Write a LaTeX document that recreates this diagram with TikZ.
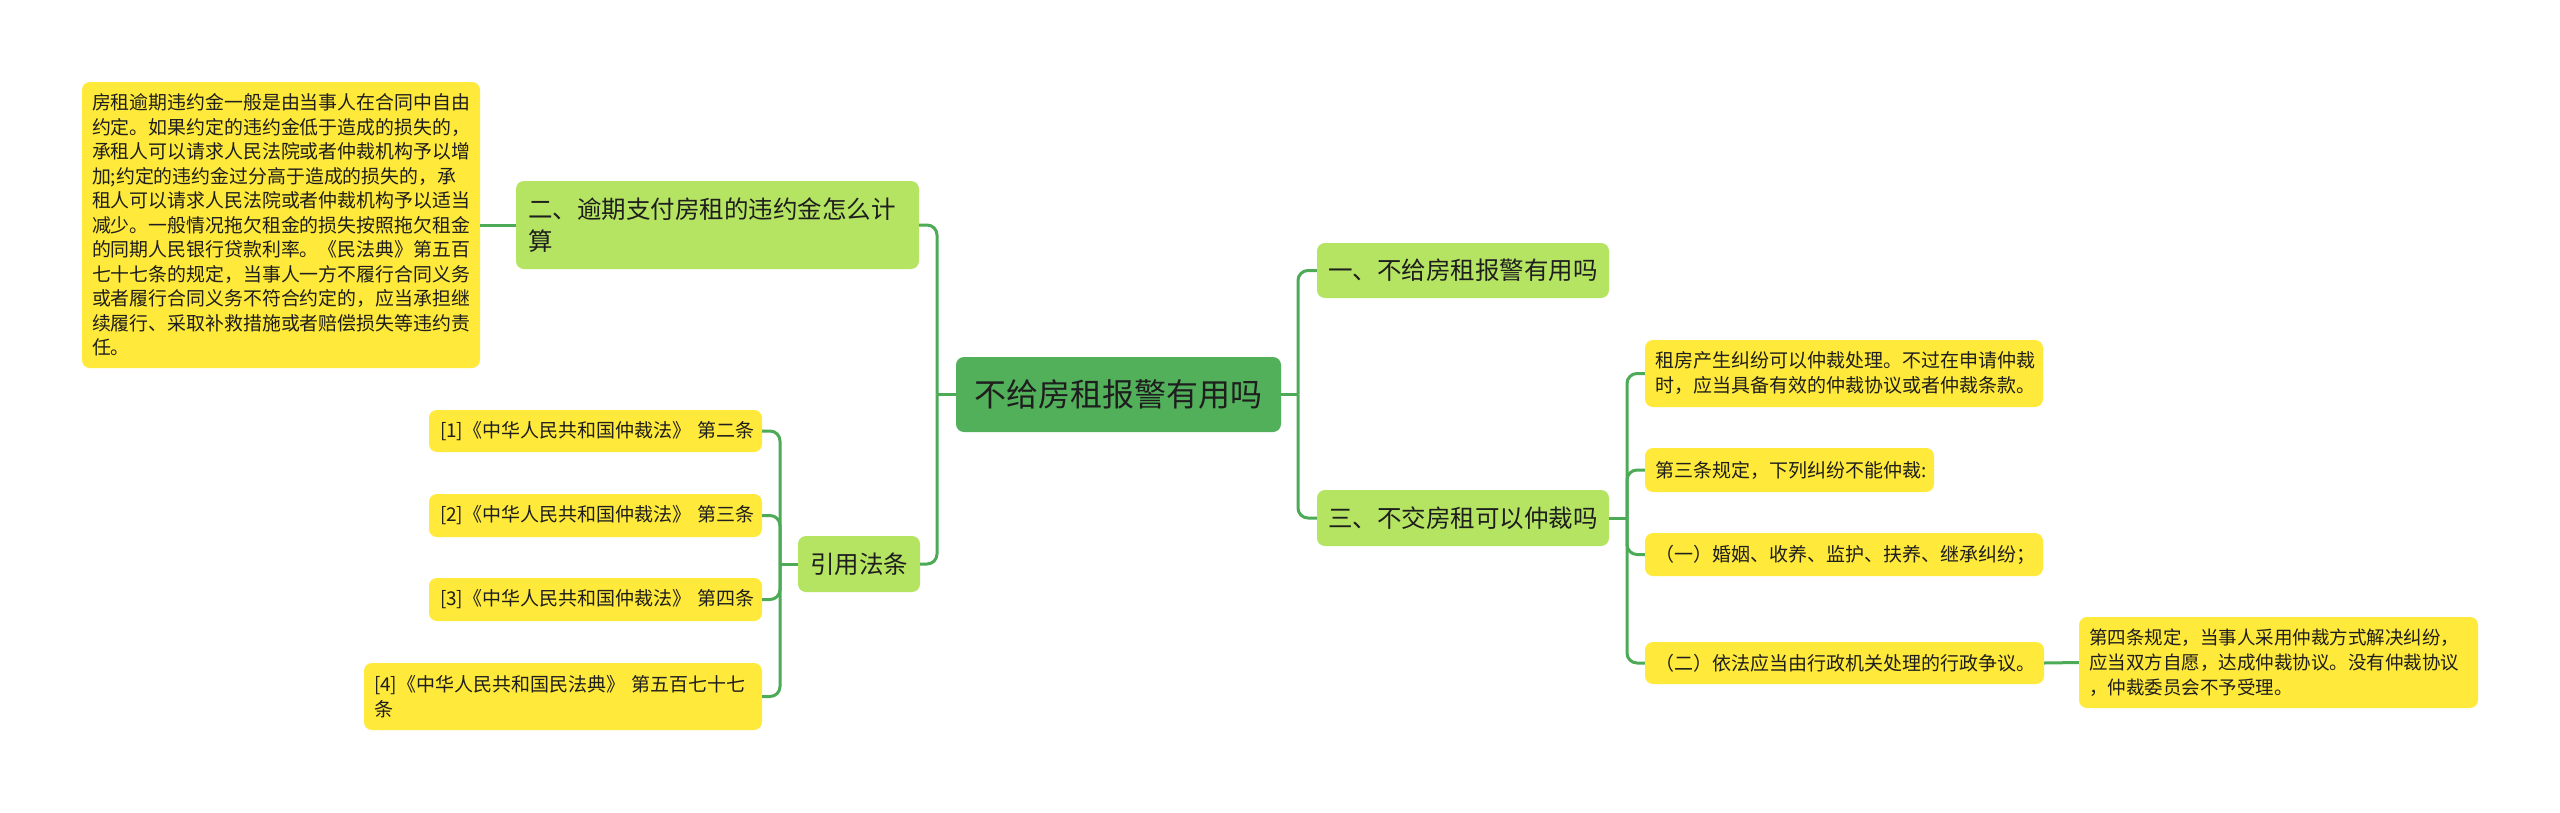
\documentclass[tikz,border=0pt]{standalone}
\usepackage{fontspec}
\setmainfont{Noto Sans CJK SC}
\definecolor{linegreen}{HTML}{4DAA57}
\definecolor{maingreen}{HTML}{52B05A}
\definecolor{lightgreen}{HTML}{B5E462}
\definecolor{leafyellow}{HTML}{FFE93A}
\definecolor{txt}{HTML}{1E1E1E}
\tikzset{
  conn/.style={draw=linegreen, line width=3pt, rounded corners=10pt},
  bx/.style={rounded corners=8pt, inner ysep=0pt, align=left, text=txt, anchor=center},
  mainbox/.style={bx, fill=maingreen, align=center, font=\fontsize{32}{40}\selectfont},
  lvone/.style={bx, fill=lightgreen, font=\fontsize{24.5}{32}\selectfont},
  leaf/.style={bx, fill=leafyellow, font=\fontsize{19}{25}\selectfont},
}
\begin{document}
\begin{tikzpicture}[x=1pt,y=-1pt]
\useasboundingbox (0,0) rectangle (2560,812);
\fill[white] (0,0) rectangle (2560,812);

% main
\node[mainbox, minimum width=325, minimum height=75, inner xsep=0pt] (main) at (1118.5,394.5) {不给房租报警有用吗};

% left branch
\node[lvone, inner xsep=12pt, text width=379, minimum height=88] (n2) at (717.5,225) {二、逾期支付房租的违约金怎么计\\算};
\node[lvone, inner xsep=0pt, align=center, minimum width=122, minimum height=56] (cite) at (859,564) {引用法条};

\node[leaf, font=\fontsize{18.9}{24.5}\selectfont, inner xsep=10pt, text width=378, minimum height=286] (detail) at (281,225) {房租逾期违约金一般是由当事人在合同中自由\\约定。如果约定的违约金低于造成的损失的，\\承租人可以请求人民法院或者仲裁机构予以增\\加;约定的违约金过分高于造成的损失的，承\\租人可以请求人民法院或者仲裁机构予以适当\\减少。一般情况拖欠租金的损失按照拖欠租金\\的同期人民银行贷款利率。《民法典》第五百\\七十七条的规定，当事人一方不履行合同义务\\或者履行合同义务不符合约定的，应当承担继\\续履行、采取补救措施或者赔偿损失等违约责\\任。};

\node[leaf, inner xsep=11pt, text width=311, minimum height=42] (l1) at (595.5,431) {\mbox{[1]《中华人民共和国仲裁法》 第二条}};
\node[leaf, inner xsep=11pt, text width=311, minimum height=43] (l2) at (595.5,515.5) {\mbox{[2]《中华人民共和国仲裁法》 第三条}};
\node[leaf, inner xsep=11pt, text width=311, minimum height=43] (l3) at (595.5,599.5) {\mbox{[3]《中华人民共和国仲裁法》 第四条}};
\node[leaf, inner xsep=10pt, text width=378, minimum height=67] (l4) at (563,696.5) {\mbox{[4]《中华人民共和国民法典》 第五百七十七}\\条};

% right branch
\node[lvone, inner xsep=11pt, text width=270, minimum height=55] (n1) at (1463,270.5) {一、不给房租报警有用吗};
\node[lvone, inner xsep=11pt, text width=270, minimum height=56] (n3) at (1463,518) {三、不交房租可以仲裁吗};

\node[leaf, inner xsep=10pt, text width=378, minimum height=67] (r1) at (1844,373.5) {租房产生纠纷可以仲裁处理。不过在申请仲裁\\时，应当具备有效的仲裁协议或者仲裁条款。};
\node[leaf, inner xsep=10pt, text width=269, minimum height=44] (r2) at (1789.5,470) {第三条规定，下列纠纷不能仲裁:};
\node[leaf, inner xsep=10pt, text width=378, minimum height=43] (r3) at (1844,554.5) {（一）婚姻、收养、监护、扶养、继承纠纷；};
\node[leaf, inner xsep=10pt, text width=379, minimum height=42] (r4) at (1844.5,663) {（二）依法应当由行政机关处理的行政争议。};
\node[leaf, font=\fontsize{18.5}{25}\selectfont, inner xsep=10pt, text width=379, minimum height=91] (r5) at (2278.5,662.5) {第四条规定，当事人采用仲裁方式解决纠纷，\\应当双方自愿，达成仲裁协议。没有仲裁协议\\，仲裁委员会不予受理。};

% junctions
\coordinate (jL) at (937,394.5);
\coordinate (jR) at (1298,394.5);
\coordinate (jC) at (780,564);
\coordinate (jR2) at (1627,518);

% connectors
\draw[conn] (main.west) -- (jL);
\draw[conn] (jL) |- (n2.east);
\draw[conn] (jL) |- (cite.east);
\draw[conn] (main.east) -- (jR);
\draw[conn] (jR) |- (n1.west);
\draw[conn] (jR) |- (n3.west);
\draw[conn] (detail.east) -- (n2.west);
\draw[conn] (cite.west) -- (jC);
\draw[conn] (jC) |- (l1.east);
\draw[conn] (jC) |- (l2.east);
\draw[conn] (jC) |- (l3.east);
\draw[conn] (jC) |- (l4.east);
\draw[conn] (n3.east) -- (jR2);
\draw[conn] (jR2) |- (r1.west);
\draw[conn] (jR2) |- (r2.west);
\draw[conn] (jR2) |- (r3.west);
\draw[conn] (jR2) |- (r4.west);
\draw[conn] (r4.east) -- (r5.west);
\end{tikzpicture}
\end{document}
